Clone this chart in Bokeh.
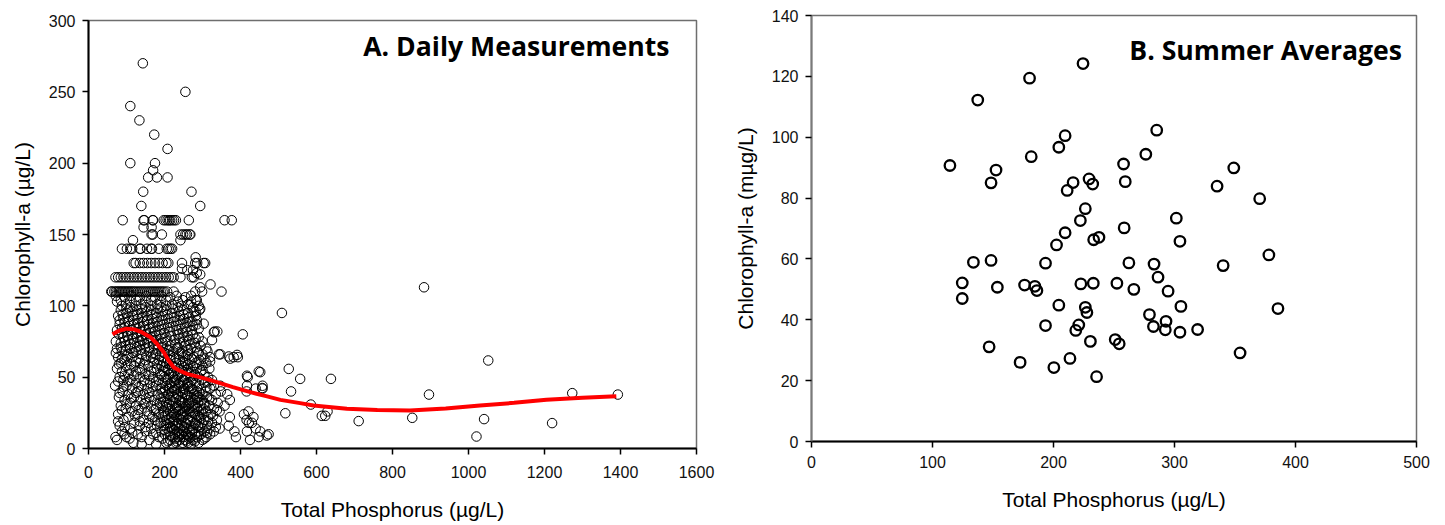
from bokeh.plotting import figure
from bokeh.layouts import row, column
from bokeh.models import Label, FixedTicker, Range1d
from bokeh.embed import file_html
from bokeh.resources import INLINE

# ---------------- Panel A: daily measurements (TP, Chl-a) ----------------
daily_high = [(143, 270), (255, 250), (110, 240), (134, 230), (173, 220), (208, 210),
              (110, 200), (175, 200), (170, 195), (157, 190), (180, 190), (208, 190),
              (144, 180), (271, 180), (139, 170), (294, 170)]

# rows of rounded chlorophyll values (chla, list of TP)
band_rows = [
    (160, [90, 145, 147, 169, 170, 198, 203, 208, 212, 215, 220, 225, 230, 264, 358, 377]),
    (155, [145, 166]),
    (150, [166, 169, 193, 242, 249, 255, 259, 266, 268]),
    (146, [117, 242]),
    (140, [88, 101, 110, 115, 135, 137, 154, 165, 167, 185, 206, 211, 216, 220]),
    (130, [119, 124, 135, 145, 155, 165, 175, 185, 195, 205, 210, 246, 281, 286, 303, 307]),
    (120, [71, 78, 85, 92, 99, 106, 113, 120, 127, 134, 141, 148, 155, 162, 169, 176,
           183, 190, 197, 204, 211, 218, 224, 242, 272, 277]),
    (110, [60, 62, 68, 72, 76, 80, 84, 88, 92, 96, 100, 104, 108, 112, 116, 120, 125, 130,
           135, 140, 145, 150, 155, 160, 165, 170, 175, 180, 185, 190, 195, 200, 207, 224,
           281, 299, 350]),
]

mid_scatter = [(282, 134), (246, 126), (260, 125), (275, 125), (285, 123), (294, 122),
               (321, 115), (294, 113), (285, 104), (294, 98), (282, 96), (273, 89),
               (303, 87.5), (330, 81.5), (339, 82), (313, 68), (347, 66), (373, 63),
               (391, 65.6), (382, 64), (369, 64.5), (406, 80), (509, 95), (417, 51),
               (417, 44), (458, 44)]

core_rows = [
    (4, [118, 205, 230, 248, 262, 290]),
    (6, [75, 160, 215, 240, 255, 275, 300, 425]),
    (8, [71, 100, 140, 185, 222, 236, 250, 268, 285, 310, 388, 448]),
    (10, [95, 130, 170, 200, 228, 245, 258, 280, 296, 320, 474]),
    (12, [88, 150, 192, 212, 233, 252, 266, 290, 305, 330, 384, 452, 417]),
    (14, [110, 165, 206, 220, 240, 260, 275, 300, 318, 345, 440]),
    (16, [82, 135, 180, 198, 228, 246, 270, 288, 312, 369]),
    (18, [120, 158, 190, 214, 236, 255, 280, 298, 325, 430, 422]),
    (20, [92, 145, 175, 205, 225, 244, 262, 285, 305, 338, 416]),
    (22, [105, 168, 195, 218, 232, 250, 272, 292, 315, 434, 372]),
    (24, [78, 130, 185, 208, 226, 242, 260, 280, 300, 322, 409]),
    (26, [115, 155, 200, 215, 236, 254, 268, 290, 310, 345, 421]),
    (28, [98, 140, 178, 210, 228, 248, 265, 285, 302, 330]),
    (30, [85, 125, 165, 195, 220, 238, 258, 275, 295, 318, 358]),
    (32, [110, 150, 188, 205, 230, 250, 268, 288, 305, 340]),
    (34, [95, 138, 172, 215, 240, 262, 280, 298, 325, 372]),
    (36, [80, 120, 160, 198, 225, 245, 270, 290, 312]),
    (38, [105, 145, 182, 210, 235, 255, 278, 300, 335, 365]),
    (40, [90, 130, 168, 200, 220, 242, 265, 285, 308, 348, 416]),
    (42, [115, 155, 190, 212, 232, 252, 272, 295, 320, 458, 440]),
    (44, [70, 100, 140, 178, 205, 228, 248, 268, 290, 330, 347]),
    (46, [125, 162, 195, 218, 240, 260, 282, 305]),
    (48, [92, 110, 148, 185, 208, 230, 250, 275, 298, 325]),
    (50, [82, 135, 170, 200, 222, 245, 268, 290, 315, 419]),
    (52, [105, 150, 188, 212, 235, 258, 280, 305]),
    (54, [88, 125, 165, 198, 225, 248, 270, 295, 448]),
    (56, [75, 140, 180, 210, 238, 262, 285, 318]),
    (58, [100, 120, 158, 192, 220, 245, 275, 300]),
    (60, [85, 135, 172, 205, 230, 255, 282, 310]),
    (62, [95, 150, 185, 215, 240, 265, 292]),
    (64, [78, 115, 165, 198, 225, 250, 278, 320, 393]),
    (66, [105, 140, 178, 210, 238, 262, 300, 343]),
    (68, [88, 125, 160, 192, 222, 248, 285]),
    (70, [75, 110, 148, 182, 205, 232, 270, 310]),
    (72, [98, 135, 170, 215, 255, 295]),
    (74, [85, 120, 155, 195, 240, 280]),
    (76, [105, 140, 178, 225, 265, 325]),
    (78, [92, 128, 165, 205, 250, 290]),
    (80, [80, 115, 150, 190, 235, 275]),
    (82, [100, 138, 175, 215, 260, 332]),
    (84, [88, 125, 160, 200, 245, 290]),
    (86, [108, 145, 185, 230, 275]),
    (88, [95, 130, 170, 212, 258]),
    (90, [82, 118, 155, 195, 240, 285]),
    (92, [105, 142, 180, 225, 265]),
    (94, [90, 128, 168, 208, 250]),
    (96, [115, 155, 195, 238, 278]),
    (98, [100, 140, 182, 222]),
    (100, [88, 125, 165, 205, 245, 290]),
    (103, [75, 110, 150, 190, 235, 270]),
    (106, [95, 135, 175, 215, 255]),
]

core_extra_rows = [
    (5, [210, 233, 258, 280]), (9, [215, 240, 262, 290]), (13, [200, 225, 248, 272]),
    (17, [208, 232, 258, 282]), (21, [212, 238, 262, 295]), (25, [198, 222, 248, 275]),
    (29, [205, 232, 255, 280]), (33, [200, 222, 245, 272]), (37, [210, 236, 260, 285]),
    (41, [202, 226, 250, 276]), (45, [214, 238, 262]), (49, [205, 228, 255]),
    (53, [218, 242, 265]), (57, [200, 226, 252]),
]

core_fill_rows = [
    (3, [140, 178, 222, 270]), (7, [108, 195, 228, 265, 305]),
    (11, [115, 178, 238, 272, 312]), (15, [95, 150, 215, 252, 292, 335]),
    (19, [78, 135, 182, 222, 268, 315]), (23, [122, 160, 202, 245, 288, 328]),
    (27, [88, 132, 172, 240, 296, 338]), (31, [100, 145, 180, 212, 265, 305]),
    (35, [112, 152, 190, 230, 285, 318]), (39, [82, 125, 160, 195, 248, 292]),
    (43, [92, 132, 170, 220, 262, 310]), (47, [78, 105, 145, 178, 225, 270, 315]),
    (51, [95, 120, 160, 192, 235, 280]), (55, [108, 135, 172, 208, 258, 300]),
    (59, [80, 112, 145, 180, 212, 262, 292]), (61, [125, 198, 248, 320]),
    (63, [88, 132, 170, 230, 272, 305]), (65, [100, 152, 188, 215, 258]),
    (67, [72, 118, 170, 200, 245, 290]), (69, [98, 138, 212, 262]),
    (71, [85, 128, 160, 195, 235, 282]), (73, [110, 148, 182, 228, 268]),
    (75, [72, 95, 135, 170, 208, 252, 300]), (77, [118, 155, 192, 238, 282]),
    (79, [102, 140, 178, 218, 262]), (81, [88, 128, 162, 200, 248]),
    (83, [75, 112, 150, 188, 232, 272]), (85, [95, 135, 170, 215, 258]),
    (87, [82, 120, 158, 198, 242, 285]), (89, [105, 145, 182, 225, 268]),
    (91, [92, 130, 168, 210, 252]), (93, [78, 118, 155, 195, 240, 282]),
    (95, [100, 140, 178, 220, 262]), (97, [85, 128, 165, 205, 250, 292]),
    (99, [110, 150, 192, 235, 275]), (101, [98, 138, 180, 220, 262]),
    (104, [85, 125, 165, 205, 248, 282]), (107, [72, 112, 152, 192, 232, 270]),
]

daily_tail = [(518, 24.7), (527, 55.8), (533, 40), (557, 48.8), (585, 30.8), (614, 22.9),
              (623, 22.9), (629, 26), (638, 48.8), (711, 19.2), (852, 21.5), (883, 113),
              (896, 37.8), (1021, 8.4), (1041, 20.6), (1052, 61.7), (1220, 17.8),
              (1273, 38.8), (1393, 37.8), (452, 53.5), (457, 42.4), (469, 9.1)]

# LOESS-type smooth
curve_tp = [63, 80, 100, 120, 140, 163, 180, 198, 210, 224, 240, 259, 300, 338, 380,
            426, 470, 505, 557, 592, 680, 760, 846, 940, 1030, 1120, 1205, 1300, 1389]
curve_chla = [80, 82.5, 84, 83.5, 81.5, 78, 73.5, 67.5, 62, 57, 54.5, 52.3, 49.5, 46.5, 43,
              39.5, 36.5, 34.1, 31.8, 30.1, 27.8, 27, 26.6, 28, 30.1, 32, 34.1, 35.5, 36.7]

# ---------------- Panel B: summer averages ----------------
summer_tp = [114.4, 137.4, 152.5, 148.4, 180.2, 181.6, 224.4, 209.6, 204.4, 216.2, 211.3,
             229.4, 232.4, 226.3, 222.2, 209.6, 202.5, 233.2, 237.6, 285.3, 276.3, 257.9,
             259.3, 349.0, 335.2, 370.4, 301.5, 304.5, 258.4, 378.0, 262.3, 283.1, 340.2,
             286.4, 252.4, 266.4, 294.7, 305.3, 385.5, 279.3, 293.0, 282.6, 292.4, 304.5,
             319.1, 354.2, 251.0, 254.3, 133.8, 148.4, 193.4, 124.6, 153.6, 124.6, 176.1,
             184.6, 186.3, 222.6, 232.9, 204.4, 226.3, 227.6, 193.4, 220.9, 218.4, 230.5,
             146.8, 172.4, 200.3, 213.6, 235.6]
summer_chla = [90.7, 112.2, 89.2, 85.0, 119.4, 93.6, 124.2, 100.5, 96.7, 85.1, 82.5,
               86.3, 84.6, 76.5, 72.6, 68.6, 64.6, 66.3, 67.1, 102.3, 94.4, 91.2,
               85.4, 89.9, 83.9, 79.8, 73.4, 65.8, 70.2, 61.3, 58.7, 58.3, 57.8,
               54.0, 52.0, 50.0, 49.4, 44.4, 43.7, 41.7, 39.5, 37.8, 36.7, 35.9,
               36.8, 29.1, 33.5, 32.1, 58.9, 59.5, 58.6, 52.1, 50.7, 47.0, 51.4,
               51.0, 49.6, 51.8, 52.0, 44.8, 44.1, 42.4, 38.1, 38.3, 36.5, 32.9,
               31.1, 26.0, 24.3, 27.3, 21.3]

a_xticks = [0, 200, 400, 600, 800, 1000, 1200, 1400, 1600]
a_yticks = [0, 50, 100, 150, 200, 250, 300]
b_xticks = [0, 100, 200, 300, 400, 500]
b_yticks = [0, 20, 40, 60, 80, 100, 120, 140]

# assemble panel A columns
daily_tp, daily_chla = [], []
for pairs in (daily_high, mid_scatter, daily_tail):
    for x, y in pairs:
        daily_tp.append(x)
        daily_chla.append(y)
for rows in (band_rows, core_rows, core_extra_rows, core_fill_rows):
    for y, xs in rows:
        for x in xs:
            daily_tp.append(x)
            daily_chla.append(y)

FONT = "Liberation Sans"


def style(p, left_axis_color, x_standoff, x_label_standoff):
    p.xgrid.visible = False
    p.ygrid.visible = False
    p.outline_line_color = "#6e6e6e"
    p.outline_line_width = 1.5
    p.background_fill_color = "white"
    p.border_fill_color = "white"
    for ax in (p.xaxis[0], p.yaxis[0]):
        ax.axis_line_color = "black"
        ax.axis_line_width = 2
        ax.major_tick_line_color = "black"
        ax.major_tick_line_width = 1.5
        ax.major_tick_out = 6
        ax.major_tick_in = 0
        ax.minor_tick_line_color = None
        ax.major_label_text_font = FONT
        ax.major_label_text_font_size = "16px"
        ax.major_label_text_color = "#111111"
        ax.major_label_standoff = 7
        ax.axis_label_text_font = FONT
        ax.axis_label_text_font_size = "21px"
        ax.axis_label_text_font_style = "normal"
        ax.axis_label_text_color = "black"
    p.yaxis[0].axis_line_color = left_axis_color
    p.xaxis[0].major_label_standoff = x_standoff
    p.xaxis[0].axis_label_standoff = x_label_standoff
    p.yaxis[0].axis_label_standoff = 12


pa = figure(width=730, height=525, output_backend="svg", toolbar_location=None,
            x_range=Range1d(0, 1600), y_range=Range1d(0, 300),
            min_border_left=88, min_border_right=34, min_border_top=20, min_border_bottom=77)
style(pa, "black", 11, 17)
pa.xaxis[0].ticker = FixedTicker(ticks=a_xticks)
pa.yaxis[0].ticker = FixedTicker(ticks=a_yticks)
pa.xaxis[0].axis_label = "Total Phosphorus (\u00b5g/L)"
pa.yaxis[0].axis_label = "Chlorophyll-a (\u00b5g/L)"
pa.scatter(daily_tp, daily_chla, marker="circle", size=9.5, fill_color=None,
           line_color="black", line_width=1)
pa.line(curve_tp, curve_chla, line_color="#ff0000", line_width=4)
pa.add_layout(Label(x=1529, y=282, text="A. Daily Measurements", text_align="right",
                    text_baseline="middle", text_font="Open Sans", text_font_style="bold",
                    text_font_size="26.6px", text_color="black"))

pb = figure(width=715, height=525, output_backend="svg", toolbar_location=None,
            x_range=Range1d(0, 500), y_range=Range1d(0, 140),
            min_border_left=80, min_border_right=29, min_border_top=15, min_border_bottom=84)
style(pb, "#7a7a7a", 8, 17)
pb.xaxis[0].ticker = FixedTicker(ticks=b_xticks)
pb.yaxis[0].ticker = FixedTicker(ticks=b_yticks)
pb.xaxis[0].axis_label = "Total Phosphorus (\u00b5g/L)"
pb.yaxis[0].axis_label = "Chlorophyll-a (m\u00b5g/L)"
pb.scatter(summer_tp, summer_chla, marker="circle", size=10.5, fill_color=None,
           line_color="black", line_width=2.3)
pb.add_layout(Label(x=488, y=128.5, text="B. Summer Averages", text_align="right",
                    text_baseline="middle", text_font="Open Sans", text_font_style="bold",
                    text_font_size="26.6px", text_color="black"))

layout = row(column(pa), column(pb), spacing=0)
open("out.html", "w").write(file_html(layout, INLINE))
